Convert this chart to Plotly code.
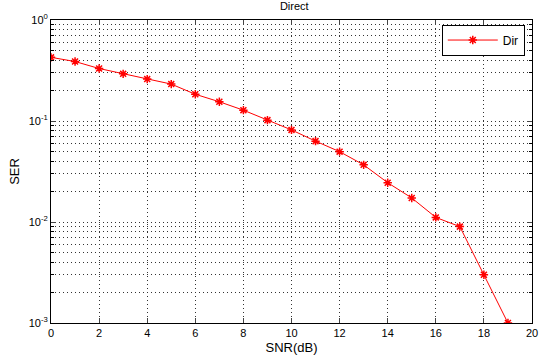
import plotly.graph_objects as go

snr = list(range(0, 20))
ser = [0.427, 0.388, 0.331, 0.293, 0.260, 0.232, 0.184, 0.155, 0.128, 0.102,
       0.0816, 0.0632, 0.0497, 0.0368, 0.0245, 0.0173, 0.0111, 0.0090, 0.0030, 0.0010]

x_ticks = list(range(0, 21, 2))
y_tickvals = [1e-3, 1e-2, 1e-1, 1]
y_ticktext = ["10<sup>-3</sup>", "10<sup>-2</sup>", "10<sup>-1</sup>", "10<sup>0</sup>"]
y_minor = [m * 10 ** e for e in (-3, -2, -1) for m in range(2, 10)]

fig = go.Figure()
fig.add_trace(go.Scatter(
    x=snr, y=ser, mode="lines+markers", name="Dir",
    line=dict(color="#ff0000", width=1),
    marker=dict(symbol="asterisk", size=7, line=dict(color="#ff0000", width=1.5), color="#ff0000"),
))

font = dict(family="Liberation Sans, Arial, sans-serif", size=11, color="#000000")
grid = dict(showgrid=True, gridcolor="#333333", griddash="1px,3px", gridwidth=1)

fig.update_layout(
    width=550, height=364,
    margin=dict(l=51, r=15, t=18, b=40),
    paper_bgcolor="white", plot_bgcolor="white",
    font=font,
    title=dict(text="Direct", x=0.535, xanchor="center", y=0.995, yanchor="top",
               font=dict(size=11)),
    showlegend=True,
    legend=dict(x=0.985, y=0.985, xanchor="right", yanchor="top",
                bordercolor="black", borderwidth=1, bgcolor="white",
                font=dict(size=12), itemwidth=50),
    xaxis=dict(
        range=[0, 20], tickvals=x_ticks, ticks="inside", ticklen=5,
        showline=True, linecolor="black", linewidth=1, mirror="ticks",
        zeroline=False,
        title=dict(text="SNR(dB)", standoff=4),
        **grid,
    ),
    yaxis=dict(
        type="log", range=[-3, 0], tickvals=y_tickvals, ticktext=y_ticktext,
        ticks="inside", ticklen=5,
        showline=True, linecolor="black", linewidth=1, mirror="ticks",
        zeroline=False,
        minor=dict(tickvals=y_minor, ticks="inside", ticklen=3, tickcolor="black", **grid),
        title=dict(text="SER", standoff=6),
        **grid,
    ),
)

fig.write_html("out.html")
